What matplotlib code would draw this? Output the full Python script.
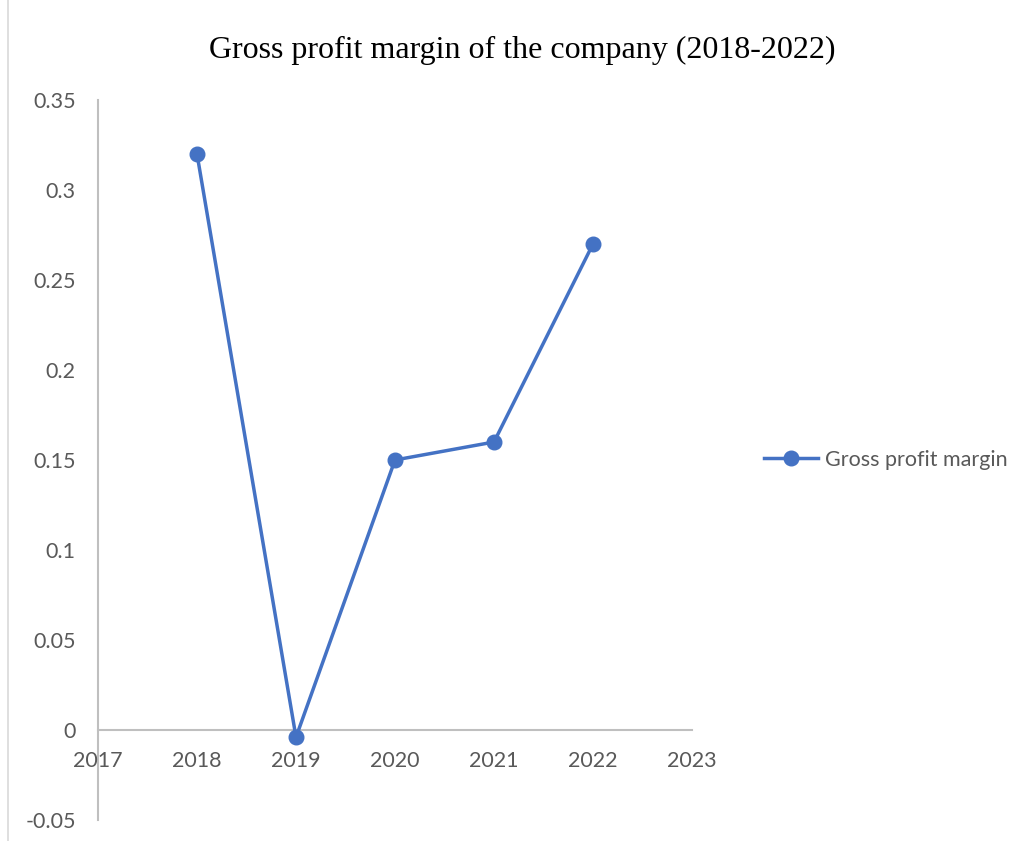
import matplotlib
matplotlib.use("Agg")
import matplotlib.pyplot as plt
from matplotlib.lines import Line2D

years = [2018, 2019, 2020, 2021, 2022]
margin = [0.32, -0.004, 0.15, 0.16, 0.27]
x_ticks = [2017, 2018, 2019, 2020, 2021, 2022, 2023]
y_ticks = [-0.05, 0, 0.05, 0.1, 0.15, 0.2, 0.25, 0.3, 0.35]
y_labels = ["-0.05", "0", "0.05", "0.1", "0.15", "0.2", "0.25", "0.3", "0.35"]
title = "Gross profit margin of the company (2018-2022)"
series_name = "Gross profit margin"

blue = "#4472C4"
gray_txt = "#595959"
axis_col = "#BFBFBF"
tick_font = "Lato"

fig = plt.figure(figsize=(10.25, 8.41), dpi=100)
ax = fig.add_axes([98/1025, 1-820/841, (692-98)/1025, (820-100)/841])

line, = ax.plot(years, margin, color=blue, lw=2.5, marker="o", ms=10.5,
                markerfacecolor=blue, markeredgecolor=blue, clip_on=False, zorder=3)

ax.set_xlim(2017, 2023)
ax.set_ylim(-0.05, 0.35)
ax.set_xticks(x_ticks)
ax.set_xticklabels([str(x) for x in x_ticks])
ax.set_yticks(y_ticks)
ax.set_yticklabels(y_labels)

for s in ["top", "right"]:
    ax.spines[s].set_visible(False)
ax.spines["bottom"].set_position(("data", 0))
for s in ["left", "bottom"]:
    ax.spines[s].set_color(axis_col)
    ax.spines[s].set_linewidth(1.5)
    ax.spines[s].set_zorder(1)

ax.tick_params(axis="both", length=0, labelcolor=gray_txt, labelsize=15.5)
ax.tick_params(axis="x", pad=15)
ax.tick_params(axis="y", pad=16)
for lab in ax.get_xticklabels() + ax.get_yticklabels():
    lab.set_fontfamily(tick_font)

fig.text(522/1025, 1-50/841, title, ha="center", va="center",
         fontsize=23, family="Liberation Serif", color="black")

handle = Line2D([], [], color=blue, lw=2.5, marker="o", ms=10.5)
leg = fig.legend([handle], [series_name], loc="center left",
                 bbox_to_anchor=(745/1025, 1-460/841), frameon=False,
                 handlelength=2.5, handletextpad=0.3,
                 prop={"family": tick_font, "size": 15.5})
for t in leg.get_texts():
    t.set_color(gray_txt)

fig.add_artist(Line2D([8/1025, 8/1025], [0, 1], transform=fig.transFigure,
                      color="#D9D9D9", lw=1.2))

fig.savefig("out.png", dpi=100)
